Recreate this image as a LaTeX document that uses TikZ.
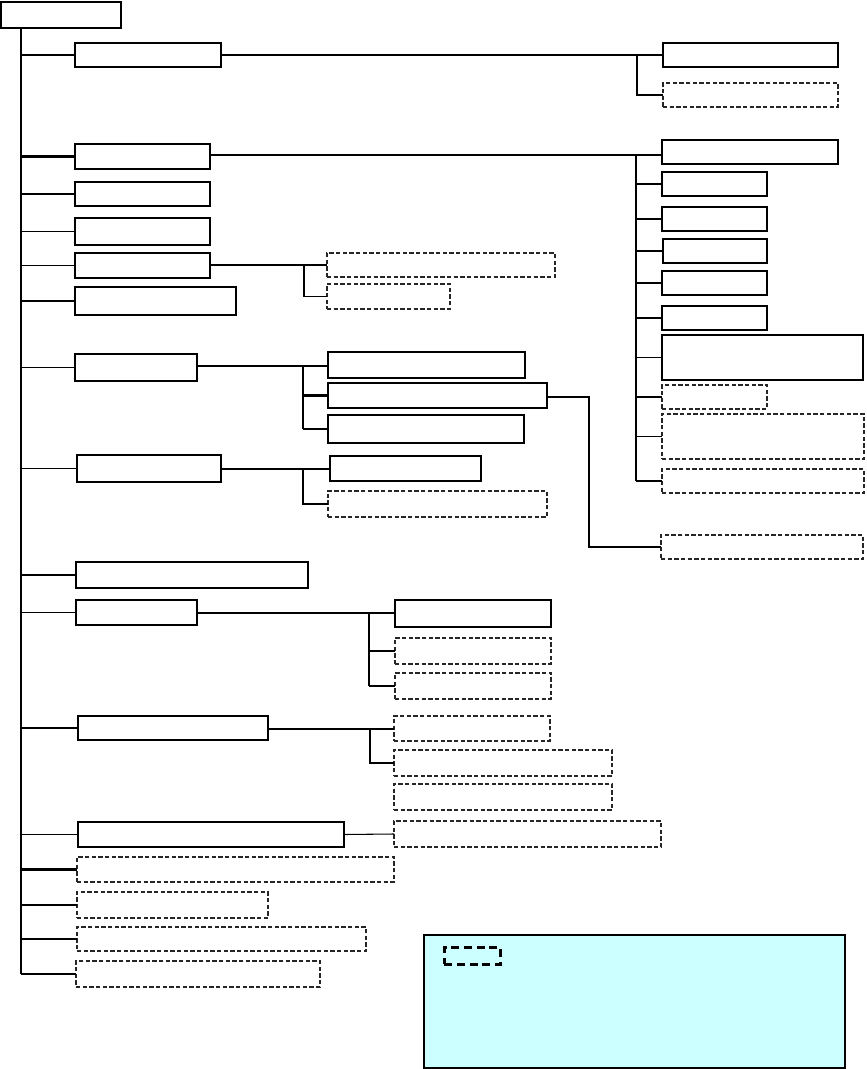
\documentclass[tikz,border=0pt]{standalone}
\begin{document}
\begin{tikzpicture}[x=0.75pt,y=-0.75pt,
  box/.style={draw=black, inner sep=0pt, outer sep=0pt, line width=0.8pt},
  tbox/.style={box, line width=1.5pt},
  dbox/.style={box, draw=black!85, dash pattern=on 3.2pt off 1.8pt, line width=0.85pt},
  thn/.style={line width=0.8pt},
  thk/.style={line width=1.6pt},
  legendbox/.style={draw=black, fill=legcyan, line width=0.8pt, inner sep=0pt, outer sep=0pt},
  legdash/.style={draw=black, line width=2pt, dash pattern=on 6pt off 3.5pt, inner sep=0pt}]
\definecolor{legcyan}{RGB}{204,255,255}
\useasboundingbox (0,0) rectangle (866,1069);
\newcommand\bx[6]{\node[#6, minimum width={(#4-#2)*0.75pt}, minimum height={(#5-#3)*0.75pt}, anchor=north west] (#1) at (#2,#3) {};}
\newcommand\shd[1]{\draw[thk, line cap=rect] (#1.south west) -- (#1.south east) -- (#1.north east);}
% root and trunk
\bx{root}{1}{2}{121}{28}{tbox}
\coordinate (tend) at (21,974);
% level 1
\bx{B1}{75}{43}{221}{67}{tbox}
\bx{B2}{75}{144}{210}{169}{box}
\bx{B3}{75}{182}{210}{206}{box}\shd{B3}
\bx{B4}{75}{218}{210}{245}{tbox}
\bx{B5}{75}{253}{210}{278}{box}\shd{B5}
\bx{B6}{75}{287}{236}{315}{tbox}
\bx{B7}{75}{354}{197}{381}{tbox}
\bx{B8}{77}{455}{221}{482}{box}
\bx{B9}{76}{562}{308}{588}{box}
\bx{B10}{76}{600}{197}{625}{box}\shd{B10}
\bx{B11}{78}{716}{268}{740}{box}\shd{B11}
\bx{B12}{78}{822}{344}{847}{box}\shd{B12}
\bx{D1}{77}{857}{394}{882}{dbox}
\bx{D2}{77}{892}{268}{918}{dbox}
\bx{D3}{77}{927}{366}{951}{dbox}
\bx{D4}{76}{961}{320}{987}{dbox}
% right column
\bx{R1}{663}{43}{838}{67}{box}\shd{R1}
\bx{R1b}{663}{83}{838}{107}{dbox}
\bx{R2a}{662}{140}{838}{164}{box}
\bx{R2b}{662}{172}{767}{196}{tbox}
\bx{R2c}{662}{207}{767}{231}{box}\shd{R2c}
\bx{R2d}{663}{239}{767}{263}{box}\shd{R2d}
\bx{R2e}{662}{271}{767}{295}{tbox}
\bx{R2f}{662}{306}{767}{330}{tbox}
\bx{R2g}{662}{335}{863}{380}{box}
\bx{R2h}{662}{385}{767}{409}{dbox}
\bx{R2i}{662}{414}{864}{459}{dbox}
\bx{R2j}{662}{469}{864}{493}{dbox}
\bx{RF}{661}{535}{863}{559}{dbox}
% middle boxes
\bx{D5a}{327}{253}{555}{277}{dbox}
\bx{D5b}{327}{284}{450}{309}{dbox}
\bx{C7a}{328}{352}{525}{378}{box}
\bx{C7b}{328}{383}{547}{408}{box}\shd{C7b}
\bx{C7c}{328}{415}{524}{443}{box}
\bx{C8a}{330}{456}{481}{481}{tbox}
\bx{C8b}{328}{491}{547}{517}{dbox}
\bx{C10a}{395}{600}{551}{627}{box}
\bx{C10b}{395}{638}{551}{664}{dbox}
\bx{C10c}{395}{673}{551}{699}{dbox}
\bx{C11a}{394}{716}{550}{741}{dbox}
\bx{C11b}{394}{750}{612}{776}{dbox}
\bx{C11c}{394}{784}{612}{810}{dbox}
\bx{C12}{394}{821}{661}{847}{dbox}
% trunk
\draw[line width=1pt] (root.south west -| tend) -- (tend);
% branches from trunk
\draw[thk] (B1.west -| tend) -- (B1.west);
\draw[thk] (B2.west -| tend) -- (B2.west);
\draw[thk] (B3.west -| tend) -- (B3.west);
\draw[thn] (B4.west -| tend) -- (B4.west);
\draw[thn] (B5.west -| tend) -- (B5.west);
\draw[thn] (B6.west -| tend) -- (B6.west);
\draw[thn] (B7.west -| tend) -- (B7.west);
\draw[thn] (B8.west -| tend) -- (B8.west);
\draw[thk] (B9.west -| tend) -- (B9.west);
\draw[thn] (B10.west -| tend) -- (B10.west);
\draw[thk] (B11.west -| tend) -- (B11.west);
\draw[thn] (B12.west -| tend) -- (B12.west);
\draw[thk] (D1.west -| tend) -- (D1.west);
\draw[thn] (D2.west -| tend) -- (D2.west);
\draw[thk] (D3.west -| tend) -- (D3.west);
\draw[thn] (D4.west -| tend) -- (D4.west);
% B1 group
\coordinate (j1) at (637,55);
\draw[thk] (B1.east) -- (R1.west);
\draw[thn] (j1) |- (R1b.west);
% B2 group
\coordinate (j2) at (636,155);
\draw[thk] (B2.east |- j2) -- (j2 -| R2a.west);
\draw[thk] (j2) -- (j2 |- R2j.west);
\draw[thn] (j2 |- R2b.west) -- (R2b.west);
\draw[thk] (j2 |- R2c.west) -- (R2c.west);
\draw[thn] (j2 |- R2d.west) -- (R2d.west);
\draw[thk] (j2 |- R2e.west) -- (R2e.west);
\draw[thk] (j2 |- R2f.west) -- (R2f.west);
\draw[thn] (j2 |- R2g.west) -- (R2g.west);
\draw[thn] (j2 |- R2h.west) -- (R2h.west);
\draw[thn] (j2 |- R2i.west) -- (R2i.west);
\draw[thk] (j2 |- R2j.west) -- (R2j.west);
% B5 group
\coordinate (j5) at (304,265);
\draw[thn] (B5.east |- j5) -- (j5 -| D5a.west);
\draw[thn] (j5) |- (D5b.west);
% B7 group
\coordinate (j7) at (303,366);
\draw[thn] (B7.east |- j7) -- (j7 -| C7a.west);
\draw[thn] (j7) -- (j7 |- C7c.west);
\draw[thk] (j7 |- C7b.west) -- (C7b.west);
\draw[thk] (j7 |- C7c.west) -- (C7c.west);
\coordinate (jf) at (589,397);
\draw[thn] (C7b.east |- jf) -- (jf) |- (RF.west);
% B8 group
\coordinate (j8) at (303,469);
\draw[thn] (B8.east |- j8) -- (j8 -| C8a.west);
\draw[thk] (j8) |- (C8b.west);
% B10 group
\coordinate (j10) at (369,613);
\draw[thn] (B10.east |- j10) -- (j10 -| C10a.west);
\draw[thk] (j10) -- (j10 |- C10c.west);
\draw[thk] (j10 |- C10b.west) -- (C10b.west);
\draw[thn] (j10 |- C10c.west) -- (C10c.west);
% B11 group
\coordinate (j11) at (370,729);
\draw[thk] (B11.east |- j11) -- (j11 -| C11a.west);
\draw[thn] (j11) |- (C11b.west);
% B12
\draw[thn] (B12.east) -- (C12.west);
% legend
\node[legendbox, minimum width={421*0.75pt}, minimum height={133*0.75pt}, anchor=north west] (leg) at (424,935) {};
\node[legdash, minimum width={56*0.75pt}, minimum height={17*0.75pt}, anchor=north west] (legd) at (443,946) {};
\end{tikzpicture}
\end{document}
